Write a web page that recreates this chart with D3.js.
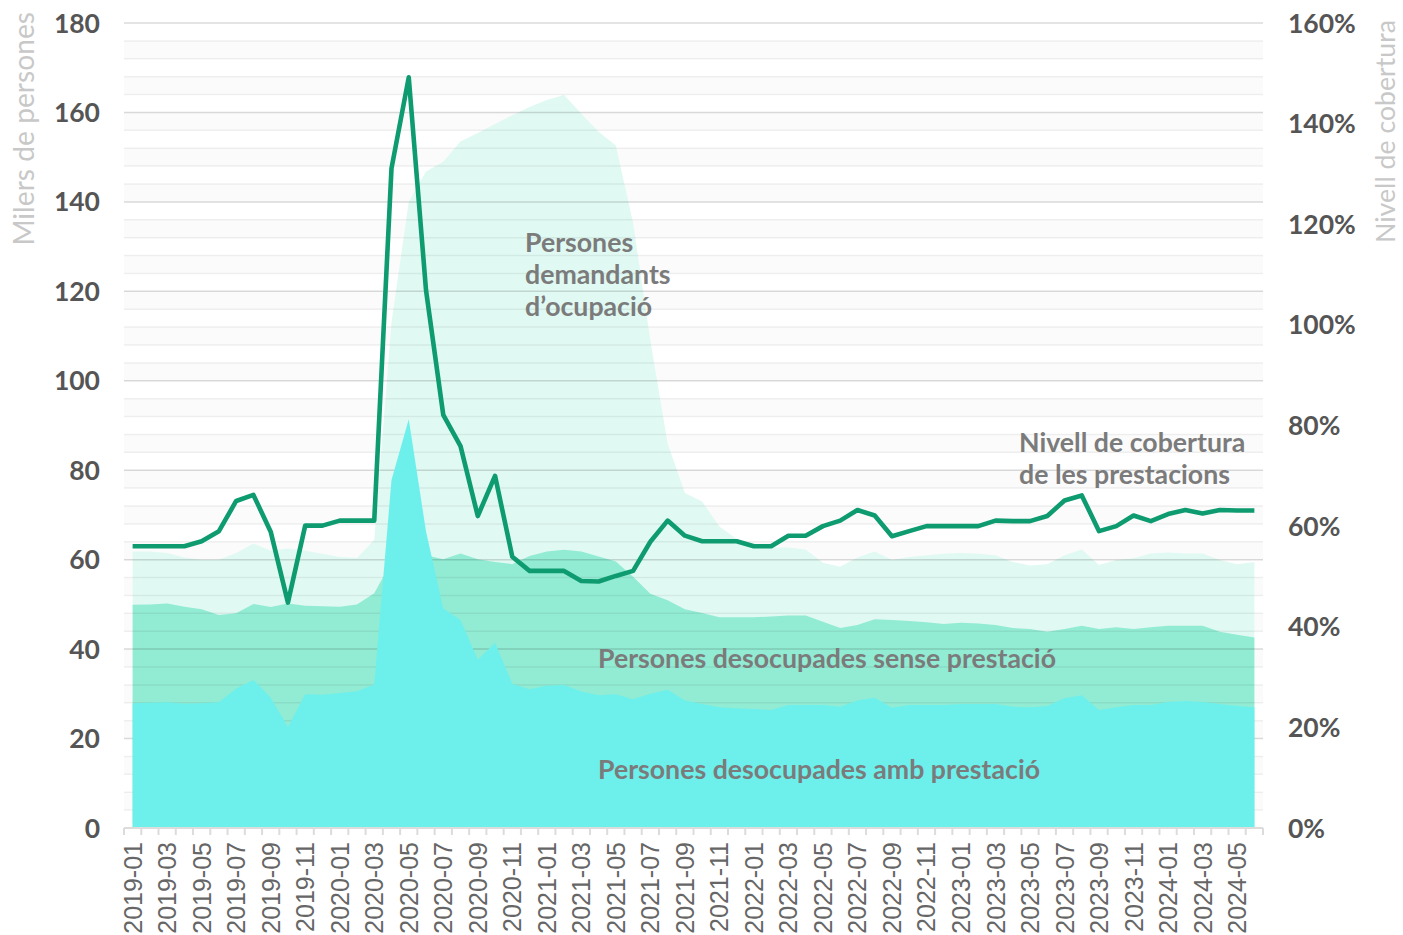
<!DOCTYPE html>
<html>
<head>
<meta charset="utf-8">
<script src="https://cdn.jsdelivr.net/npm/d3@7"></script>
<style>
    body { margin: 0; background: #fff; }
    svg { display: block; }
</style>
</head>
<body>
<svg id="chart" width="1403" height="935"></svg>
<script>
// monthly categories, 2019-01 .. 2024-06
const months = [
    "2019-01","2019-02","2019-03","2019-04","2019-05","2019-06","2019-07","2019-08","2019-09","2019-10","2019-11","2019-12",
    "2020-01","2020-02","2020-03","2020-04","2020-05","2020-06","2020-07","2020-08","2020-09","2020-10","2020-11","2020-12",
    "2021-01","2021-02","2021-03","2021-04","2021-05","2021-06","2021-07","2021-08","2021-09","2021-10","2021-11","2021-12",
    "2022-01","2022-02","2022-03","2022-04","2022-05","2022-06","2022-07","2022-08","2022-09","2022-10","2022-11","2022-12",
    "2023-01","2023-02","2023-03","2023-04","2023-05","2023-06","2023-07","2023-08","2023-09","2023-10","2023-11","2023-12",
    "2024-01","2024-02","2024-03","2024-04","2024-05","2024-06"
];

// thousands of people
const demandants = [
    61.8, 61.8, 61.5, 60.5, 60.0, 60.0, 61.5, 63.6, 62.0, 62.5, 62.0, 61.3,
    60.6, 60.4, 64.4, 113.0, 140.0, 146.8, 149.0, 153.5, 155.4, 157.4, 159.4, 161.2,
    162.8, 163.9, 159.7, 155.7, 152.6, 135.3, 109.0, 86.0, 74.9, 73.0, 67.4, 64.6,
    63.1, 62.7, 62.7, 62.3, 59.3, 58.4, 60.5, 61.8, 59.9, 60.6, 61.0, 61.3,
    61.5, 61.3, 61.0, 59.5, 58.7, 59.0, 61.0, 62.3, 58.8, 59.9, 60.3, 61.4,
    61.6, 61.4, 61.4, 59.9, 59.0, 59.5
];
const desocupats = [
    49.9, 50.0, 50.2, 49.5, 48.9, 47.6, 48.0, 50.1, 49.4, 50.2, 49.7, 49.6,
    49.5, 50.0, 52.5, 59.5, 61.3, 61.0, 60.1, 61.4, 60.1, 59.5, 59.0, 60.8,
    61.8, 62.2, 61.8, 60.7, 59.6, 56.2, 52.4, 50.9, 48.9, 48.1, 47.1, 47.1,
    47.1, 47.3, 47.5, 47.5, 46.1, 44.7, 45.4, 46.7, 46.5, 46.3, 46.0, 45.6,
    45.9, 45.7, 45.4, 44.7, 44.5, 43.9, 44.5, 45.2, 44.5, 44.9, 44.5, 44.9,
    45.2, 45.2, 45.2, 43.9, 43.2, 42.6
];
const ambPrestacio = [
    27.9, 28.0, 28.1, 27.8, 27.9, 28.1, 31.2, 33.1, 29.1, 22.6, 29.9, 29.8,
    30.2, 30.6, 32.1, 77.8, 91.4, 66.3, 49.1, 46.5, 37.6, 41.4, 32.2, 31.0,
    31.8, 32.0, 30.5, 29.7, 29.9, 28.8, 30.0, 30.9, 28.5, 27.7, 27.0, 26.8,
    26.6, 26.4, 27.5, 27.5, 27.5, 27.1, 28.5, 29.1, 26.9, 27.5, 27.5, 27.5,
    27.7, 27.7, 27.7, 27.1, 27.0, 27.3, 29.0, 29.7, 26.4, 27.0, 27.5, 27.5,
    28.2, 28.4, 28.2, 27.7, 27.3, 27.0
];
// coverage rate, percent
const cobertura = [
    56.0, 56.0, 56.0, 56.0, 57.0, 59.0, 65.0, 66.2, 58.9, 44.8, 60.1, 60.1,
    61.1, 61.1, 61.1, 131.1, 149.2, 106.9, 82.1, 75.9, 62.0, 70.0, 53.9, 51.1,
    51.1, 51.1, 49.1, 49.0, 50.1, 51.1, 56.9, 61.1, 58.1, 57.0, 57.0, 57.0,
    56.0, 56.0, 58.1, 58.1, 60.0, 61.1, 63.2, 62.1, 58.0, 59.0, 60.0, 60.0,
    60.0, 60.0, 61.1, 61.0, 61.0, 62.0, 65.1, 66.1, 59.0, 60.0, 62.1, 61.0,
    62.4, 63.2, 62.5, 63.2, 63.1, 63.1
];

const leftTicks = [0, 20, 40, 60, 80, 100, 120, 140, 160, 180];
const rightTicks = [0, 20, 40, 60, 80, 100, 120, 140, 160];

const svg = d3.select("#chart");
const plot = { left: 124, right: 1263, top: 23, bottom: 828 };

const x = d3.scaleBand().domain(months).range([plot.left, plot.right]).padding(0);
const xc = m => x(m) + x.bandwidth() / 2;
const y = d3.scaleLinear().domain([0, 180]).range([plot.bottom, plot.top]);
const y2 = d3.scaleLinear().domain([0, 160]).range([plot.bottom, plot.top]);

// alternating background bands (every 4 units)
const minorSteps = d3.range(0, 180, 4);
svg.append("g").selectAll("rect")
    .data(minorSteps.filter((d, i) => i % 2 === 1))
    .join("rect")
    .attr("x", plot.left).attr("width", plot.right - plot.left)
    .attr("y", d => y(d + 4)).attr("height", d => y(d) - y(d + 4))
    .attr("fill", "#fbfbfb");

const areaOf = vals => d3.area()
    .x((d, i) => xc(months[i]))
    .y0(y(0))
    .y1(d => y(d))(vals);

svg.append("path").attr("d", areaOf(demandants)).attr("fill", "#e0f9f2");
svg.append("path").attr("d", areaOf(desocupats)).attr("fill", "#92ebd3");

// grid on top of the two lighter areas
const grid = svg.append("g");
grid.selectAll("line.minor")
    .data(d3.range(4, 181, 4).filter(d => d % 20 !== 0))
    .join("line")
    .attr("class", "minor")
    .attr("x1", plot.left).attr("x2", plot.right)
    .attr("y1", d => y(d)).attr("y2", d => y(d))
    .attr("stroke", "rgba(0,0,0,0.06)").attr("stroke-width", 1.5);
grid.selectAll("line.major")
    .data(leftTicks.filter(d => d > 0))
    .join("line")
    .attr("class", "major")
    .attr("x1", plot.left).attr("x2", plot.right)
    .attr("y1", d => y(d)).attr("y2", d => y(d))
    .attr("stroke", "rgba(0,0,0,0.14)").attr("stroke-width", 1.5);

svg.append("path").attr("d", areaOf(ambPrestacio)).attr("fill", "#6df0ec");

// coverage line
const line = d3.line()
    .x((d, i) => xc(months[i]))
    .y(d => y2(d));
svg.append("path")
    .attr("d", line(cobertura))
    .attr("fill", "none")
    .attr("stroke", "#0e9b6f")
    .attr("stroke-width", 4.6)
    .attr("stroke-linejoin", "round");

// bottom axis
const xAxis = svg.append("g");
xAxis.append("line")
    .attr("x1", plot.left).attr("x2", plot.right)
    .attr("y1", plot.bottom).attr("y2", plot.bottom)
    .attr("stroke", "#dcdcdc").attr("stroke-width", 2);
const tickPos = months.map(m => x(m)).concat([plot.right]);
xAxis.selectAll("line.tick")
    .data(tickPos)
    .join("line")
    .attr("class", "tick")
    .attr("x1", d => d).attr("x2", d => d)
    .attr("y1", plot.bottom).attr("y2", plot.bottom + 7)
    .attr("stroke", "#dcdcdc").attr("stroke-width", 2);
xAxis.selectAll("text")
    .data(months.filter((m, i) => i % 2 === 0))
    .join("text")
    .attr("transform", m => `translate(${xc(m)},842) rotate(-90)`)
    .attr("dy", "0.36em")
    .attr("text-anchor", "end")
    .attr("font-family", "'Liberation Sans', Arial, sans-serif")
    .attr("font-size", 25)
    .attr("fill", "#666")
    .text(m => m);

// left axis labels
svg.append("g").selectAll("text")
    .data(leftTicks)
    .join("text")
    .attr("x", 100).attr("y", d => y(d))
    .attr("dy", "0.36em")
    .attr("text-anchor", "end")
    .attr("font-family", "Lato, sans-serif")
    .attr("font-weight", 700)
    .attr("font-size", 26.5)
    .attr("fill", "#555")
    .text(d => d);

// right axis labels
svg.append("g").selectAll("text")
    .data(rightTicks)
    .join("text")
    .attr("x", 1288).attr("y", d => y2(d))
    .attr("dy", "0.36em")
    .attr("text-anchor", "start")
    .attr("font-family", "Lato, sans-serif")
    .attr("font-weight", 700)
    .attr("font-size", 26.5)
    .attr("fill", "#555")
    .text(d => d + "%");

// axis titles
svg.append("text")
    .attr("transform", "translate(34,12) rotate(-90)")
    .attr("text-anchor", "end")
    .attr("font-family", "Lato, sans-serif")
    .attr("font-size", 28.2)
    .attr("fill", "#c8c8c8")
    .text("Milers de persones");
svg.append("text")
    .attr("transform", "translate(1395,20) rotate(-90)")
    .attr("text-anchor", "end")
    .attr("font-family", "Lato, sans-serif")
    .attr("font-size", 26.7)
    .attr("fill", "#c8c8c8")
    .text("Nivell de cobertura");

// series annotations
function note(lines, x0, y0) {
    const t = svg.append("text")
        .attr("font-family", "Lato, sans-serif")
        .attr("font-weight", 700)
        .attr("font-size", 26.7)
        .attr("fill", "#7b7b7b");
    lines.forEach((s, i) => {
        t.append("tspan").attr("x", x0).attr("y", y0 + i * 32).text(s);
    });
}
note(["Persones", "demandants", "d\u2019ocupació"], 525, 252);
note(["Persones desocupades sense prestació"], 598, 668);
note(["Persones desocupades amb prestació"], 598, 779);
note(["Nivell de cobertura", "de les prestacions"], 1019, 452);
</script>
</body>
</html>
